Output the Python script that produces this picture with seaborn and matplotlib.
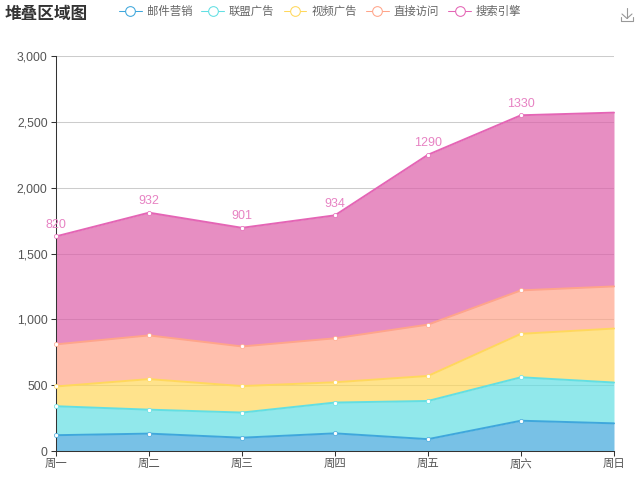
import matplotlib
matplotlib.use("Agg")
import matplotlib.pyplot as plt
from matplotlib.lines import Line2D
import seaborn as sns
import pandas as pd
import numpy as np

# Data
days = ["周一", "周二", "周三", "周四", "周五", "周六", "周日"]
email = [120, 132, 101, 134, 90, 230, 210]
union_ads = [220, 182, 191, 234, 290, 330, 310]
video_ads = [150, 232, 201, 154, 190, 330, 410]
direct = [320, 332, 301, 334, 390, 330, 320]
search = [820, 932, 901, 934, 1290, 1330, 1320]
series_names = ["邮件营销", "联盟广告", "视频广告", "直接访问", "搜索引擎"]
y_ticks = [0, 500, 1000, 1500, 2000, 2500, 3000]

colors = ["#3fa7dc", "#62dfe3", "#ffd85c", "#ffa58a", "#e465b5"]
fill_colors = ["#3fa7dc", "#62dfe3", "#ffd85c", "#ffa58a", "#dd5fa9"]

sns.set_style("white")
plt.rcParams["font.family"] = ["Liberation Sans", "Noto Sans CJK SC", "DejaVu Sans"]

fig = plt.figure(figsize=(6.4, 4.84), dpi=100)
ax = fig.add_axes([56 / 640, 33 / 484, 558 / 640, 395 / 484])

x = np.arange(len(days))
stacked = np.cumsum([email, union_ads, video_ads, direct, search], axis=0)
lower = np.zeros(len(days))

for i, name in enumerate(series_names):
    df = pd.DataFrame({"x": x, "y": stacked[i]})
    ax.fill_between(x, lower, stacked[i], color=fill_colors[i], alpha=0.7, lw=0, zorder=2)
    # the last point has no symbol in the original
    sns.lineplot(data=df, x="x", y="y", color=colors[i], lw=1.4, ax=ax, zorder=3,
                 marker="o", markersize=3, markerfacecolor="white",
                 markeredgecolor=colors[i], markeredgewidth=0.5, clip_on=False,
                 markevery=list(range(len(days) - 1)))
    lower = stacked[i]

# Labels only on the top series, none on the last day
for xi, total, val in zip(x[:-1], stacked[-1][:-1], search[:-1]):
    ax.annotate(str(val), (xi, total), xytext=(0, 4), textcoords="offset points",
                ha="center", va="bottom", fontsize=9, color="#e783c3", zorder=5)

ax.set_xlim(0, len(days) - 1)
ax.set_ylim(0, 3000)
ax.set_xticks(x)
ax.set_xticklabels(days)
ax.set_yticks(y_ticks)
ax.set_yticklabels([f"{v:,}" for v in y_ticks])
ax.set_xlabel("")
ax.set_ylabel("")
ax.set_axisbelow(True)
ax.grid(axis="y", color="#cccccc", lw=0.75)
ax.grid(axis="x", visible=False)
ax.tick_params(axis="both", length=3.5, width=0.75, color="#333333", labelcolor="#555555",
               pad=2.5, bottom=True, left=True)
ax.tick_params(axis="y", labelsize=8.7)
ax.tick_params(axis="x", labelsize=8.2)
for side in ["top", "right"]:
    ax.spines[side].set_visible(False)
for side in ["left", "bottom"]:
    ax.spines[side].set_color("#333333")
    ax.spines[side].set_linewidth(0.75)

# Title, legend
fig.text(5 / 640, 1 - 14 / 484, "堆叠区域图", fontsize=12, fontweight="bold",
         color="#333333", ha="left", va="center")

handles = [Line2D([], [], color=c, lw=0.75, marker="o", markersize=7,
                  markerfacecolor="white", markeredgecolor=c, markeredgewidth=0.75)
           for c in colors]
fig.legend(handles, series_names, loc="center left", bbox_to_anchor=(119 / 640, 1 - 11 / 484),
           ncol=5, frameon=False, fontsize=8.2, labelcolor="#666666", handlelength=2.0,
           handletextpad=0.44, columnspacing=0.79, borderpad=0, borderaxespad=0)

# Download icon
icon = "#999999"
def to_fig(px, py):
    return px / 640, 1 - py / 484
for pts in [[(627, 8), (627, 18)], [(622, 14), (627, 18.5), (632, 14)],
            [(621, 17), (621, 21), (633, 21), (633, 17)]]:
    fx, fy = zip(*[to_fig(*p) for p in pts])
    fig.add_artist(Line2D(fx, fy, color=icon, lw=0.8))

fig.savefig("out.png", dpi=100)
